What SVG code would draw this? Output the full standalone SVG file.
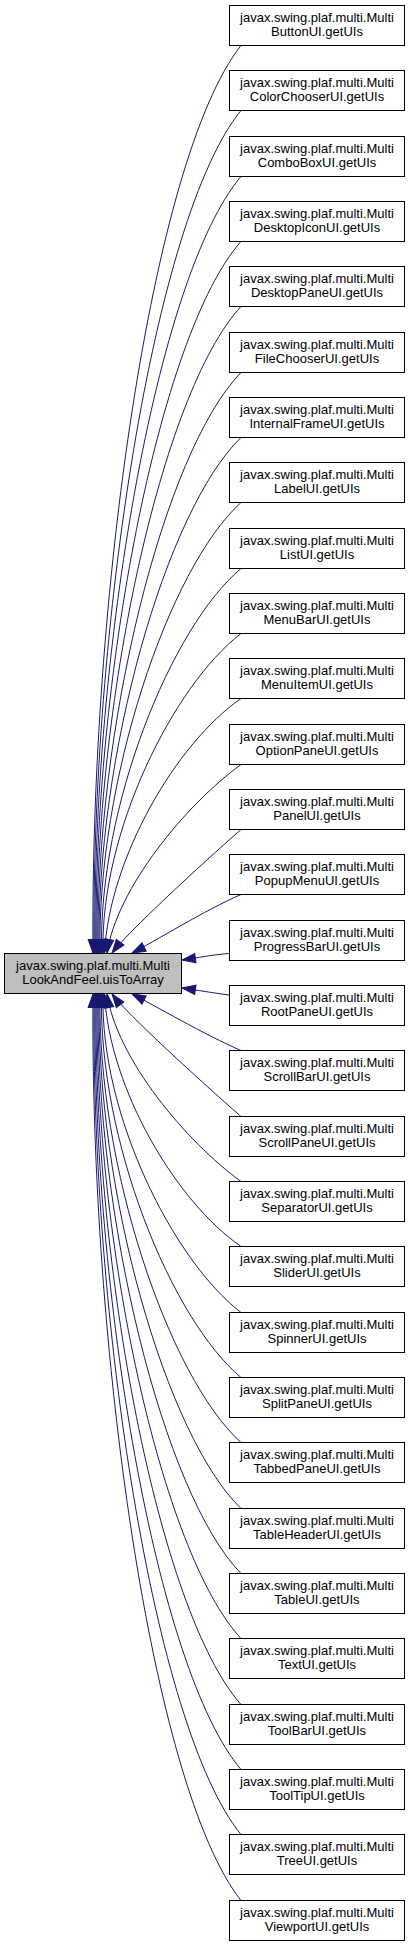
<svg xmlns="http://www.w3.org/2000/svg" width="411" height="1947" viewBox="0 0 411 1947">
<style>
.n rect{fill:#fff;stroke:#000;stroke-width:1}
.m rect{fill:#bfbfbf;stroke:#000;stroke-width:1}
text{font-family:"Liberation Sans",Arial,sans-serif;font-size:13px;fill:#000;text-anchor:middle}
.e path{fill:none;stroke:#191970;stroke-width:1;marker-end:url(#ah)}
</style>
<defs>
<marker id="ah" markerUnits="userSpaceOnUse" markerWidth="16" markerHeight="12" viewBox="-1 -6 16 12" refX="13.5" refY="0" orient="auto">
<path d="M0,-4.7 L13.5,0 L0,4.7 Z" fill="#191970" stroke="#191970" stroke-width="1"/>
</marker>
</defs>
<rect width="411" height="1947" fill="#fff"/>
<g id="connectors" class="e">
<path d="M241,45.5 C151,159.5 90,603 93,953"/>
<path d="M241,110.5 C153.5,217.6 91,628.5 94,953"/>
<path d="M241,176.5 C156,276.7 92,654 95,953"/>
<path d="M241,241.5 C158.5,334.8 93,679.5 96,953"/>
<path d="M241,306.5 C161,392.9 94,705 97,953"/>
<path d="M241,372.5 C163.5,452 95,730.5 98,953"/>
<path d="M241,437.5 C166,510.1 96,756 99,953"/>
<path d="M241,502.5 C168.5,568.2 97,781.5 100,953"/>
<path d="M241,568.5 C171,627.3 98.5,807 101.5,953"/>
<path d="M241,633.5 C173.5,685.4 100,832.5 103,953"/>
<path d="M241,698.5 C176,743.5 109.5,858 104.5,953"/>
<path d="M241,764.5 C186,804.5 117,888 107,953"/>
<path d="M241,829.5 C201,864.5 127,933 112,953"/>
<path d="M241,894.5 C206,909.5 152,943 132,953"/>
<path d="M229,953.5 C210,955 200,957.5 182,960"/>
<path d="M229,995 C210,992.5 200,990.5 182,988"/>
<path d="M241,1050.5 C206,1035.5 152,1004 132,994"/>
<path d="M241,1116.5 C201,1081.5 127,1014 112,994"/>
<path d="M241,1181.5 C186,1141.5 117,1059 107,994"/>
<path d="M241,1246.5 C176,1201.5 109.5,1089 104.5,994"/>
<path d="M241,1312.5 C173.5,1260.6 100,1114.5 103,994"/>
<path d="M241,1377.5 C171,1318.7 98.5,1140 101.5,994"/>
<path d="M241,1442.5 C168.5,1376.8 97,1165.5 100,994"/>
<path d="M241,1508.5 C166,1435.9 96,1191 99,994"/>
<path d="M241,1573.5 C163.5,1494 95,1216.5 98,994"/>
<path d="M241,1638.5 C161,1552.1 94,1242 97,994"/>
<path d="M241,1704.5 C158.5,1611.2 93,1267.5 96,994"/>
<path d="M241,1769.5 C156,1669.3 92,1293 95,994"/>
<path d="M241,1834.5 C153.5,1727.4 91,1318.5 94,994"/>
<path d="M241,1900.5 C151,1786.5 90,1344 93,994"/>
</g>
<g id="uisToArray" class="m"><rect x="4.5" y="953.5" width="177" height="40"/><text x="93" y="969.5">javax.swing.plaf.multi.Multi</text><text x="93" y="983.5">LookAndFeel.uisToArray</text></g>
<g id="ButtonUI" class="n"><rect x="229.5" y="5.5" width="175" height="40"/><text x="317" y="21.5">javax.swing.plaf.multi.Multi</text><text x="317" y="35.5">ButtonUI.getUIs</text></g>
<g id="ColorChooserUI" class="n"><rect x="229.5" y="70.5" width="175" height="40"/><text x="317" y="86.5">javax.swing.plaf.multi.Multi</text><text x="317" y="100.5">ColorChooserUI.getUIs</text></g>
<g id="ComboBoxUI" class="n"><rect x="229.5" y="136.5" width="175" height="40"/><text x="317" y="152.5">javax.swing.plaf.multi.Multi</text><text x="317" y="166.5">ComboBoxUI.getUIs</text></g>
<g id="DesktopIconUI" class="n"><rect x="229.5" y="201.5" width="175" height="40"/><text x="317" y="217.5">javax.swing.plaf.multi.Multi</text><text x="317" y="231.5">DesktopIconUI.getUIs</text></g>
<g id="DesktopPaneUI" class="n"><rect x="229.5" y="266.5" width="175" height="40"/><text x="317" y="282.5">javax.swing.plaf.multi.Multi</text><text x="317" y="296.5">DesktopPaneUI.getUIs</text></g>
<g id="FileChooserUI" class="n"><rect x="229.5" y="332.5" width="175" height="40"/><text x="317" y="348.5">javax.swing.plaf.multi.Multi</text><text x="317" y="362.5">FileChooserUI.getUIs</text></g>
<g id="InternalFrameUI" class="n"><rect x="229.5" y="397.5" width="175" height="40"/><text x="317" y="413.5">javax.swing.plaf.multi.Multi</text><text x="317" y="427.5">InternalFrameUI.getUIs</text></g>
<g id="LabelUI" class="n"><rect x="229.5" y="462.5" width="175" height="40"/><text x="317" y="478.5">javax.swing.plaf.multi.Multi</text><text x="317" y="492.5">LabelUI.getUIs</text></g>
<g id="ListUI" class="n"><rect x="229.5" y="528.5" width="175" height="40"/><text x="317" y="544.5">javax.swing.plaf.multi.Multi</text><text x="317" y="558.5">ListUI.getUIs</text></g>
<g id="MenuBarUI" class="n"><rect x="229.5" y="593.5" width="175" height="40"/><text x="317" y="609.5">javax.swing.plaf.multi.Multi</text><text x="317" y="623.5">MenuBarUI.getUIs</text></g>
<g id="MenuItemUI" class="n"><rect x="229.5" y="658.5" width="175" height="40"/><text x="317" y="674.5">javax.swing.plaf.multi.Multi</text><text x="317" y="688.5">MenuItemUI.getUIs</text></g>
<g id="OptionPaneUI" class="n"><rect x="229.5" y="724.5" width="175" height="40"/><text x="317" y="740.5">javax.swing.plaf.multi.Multi</text><text x="317" y="754.5">OptionPaneUI.getUIs</text></g>
<g id="PanelUI" class="n"><rect x="229.5" y="789.5" width="175" height="40"/><text x="317" y="805.5">javax.swing.plaf.multi.Multi</text><text x="317" y="819.5">PanelUI.getUIs</text></g>
<g id="PopupMenuUI" class="n"><rect x="229.5" y="854.5" width="175" height="40"/><text x="317" y="870.5">javax.swing.plaf.multi.Multi</text><text x="317" y="884.5">PopupMenuUI.getUIs</text></g>
<g id="ProgressBarUI" class="n"><rect x="229.5" y="920.5" width="175" height="40"/><text x="317" y="936.5">javax.swing.plaf.multi.Multi</text><text x="317" y="950.5">ProgressBarUI.getUIs</text></g>
<g id="RootPaneUI" class="n"><rect x="229.5" y="985.5" width="175" height="40"/><text x="317" y="1001.5">javax.swing.plaf.multi.Multi</text><text x="317" y="1015.5">RootPaneUI.getUIs</text></g>
<g id="ScrollBarUI" class="n"><rect x="229.5" y="1050.5" width="175" height="40"/><text x="317" y="1066.5">javax.swing.plaf.multi.Multi</text><text x="317" y="1080.5">ScrollBarUI.getUIs</text></g>
<g id="ScrollPaneUI" class="n"><rect x="229.5" y="1116.5" width="175" height="40"/><text x="317" y="1132.5">javax.swing.plaf.multi.Multi</text><text x="317" y="1146.5">ScrollPaneUI.getUIs</text></g>
<g id="SeparatorUI" class="n"><rect x="229.5" y="1181.5" width="175" height="40"/><text x="317" y="1197.5">javax.swing.plaf.multi.Multi</text><text x="317" y="1211.5">SeparatorUI.getUIs</text></g>
<g id="SliderUI" class="n"><rect x="229.5" y="1246.5" width="175" height="40"/><text x="317" y="1262.5">javax.swing.plaf.multi.Multi</text><text x="317" y="1276.5">SliderUI.getUIs</text></g>
<g id="SpinnerUI" class="n"><rect x="229.5" y="1312.5" width="175" height="40"/><text x="317" y="1328.5">javax.swing.plaf.multi.Multi</text><text x="317" y="1342.5">SpinnerUI.getUIs</text></g>
<g id="SplitPaneUI" class="n"><rect x="229.5" y="1377.5" width="175" height="40"/><text x="317" y="1393.5">javax.swing.plaf.multi.Multi</text><text x="317" y="1407.5">SplitPaneUI.getUIs</text></g>
<g id="TabbedPaneUI" class="n"><rect x="229.5" y="1442.5" width="175" height="40"/><text x="317" y="1458.5">javax.swing.plaf.multi.Multi</text><text x="317" y="1472.5">TabbedPaneUI.getUIs</text></g>
<g id="TableHeaderUI" class="n"><rect x="229.5" y="1508.5" width="175" height="40"/><text x="317" y="1524.5">javax.swing.plaf.multi.Multi</text><text x="317" y="1538.5">TableHeaderUI.getUIs</text></g>
<g id="TableUI" class="n"><rect x="229.5" y="1573.5" width="175" height="40"/><text x="317" y="1589.5">javax.swing.plaf.multi.Multi</text><text x="317" y="1603.5">TableUI.getUIs</text></g>
<g id="TextUI" class="n"><rect x="229.5" y="1638.5" width="175" height="40"/><text x="317" y="1654.5">javax.swing.plaf.multi.Multi</text><text x="317" y="1668.5">TextUI.getUIs</text></g>
<g id="ToolBarUI" class="n"><rect x="229.5" y="1704.5" width="175" height="40"/><text x="317" y="1720.5">javax.swing.plaf.multi.Multi</text><text x="317" y="1734.5">ToolBarUI.getUIs</text></g>
<g id="ToolTipUI" class="n"><rect x="229.5" y="1769.5" width="175" height="40"/><text x="317" y="1785.5">javax.swing.plaf.multi.Multi</text><text x="317" y="1799.5">ToolTipUI.getUIs</text></g>
<g id="TreeUI" class="n"><rect x="229.5" y="1834.5" width="175" height="40"/><text x="317" y="1850.5">javax.swing.plaf.multi.Multi</text><text x="317" y="1864.5">TreeUI.getUIs</text></g>
<g id="ViewportUI" class="n"><rect x="229.5" y="1900.5" width="175" height="40"/><text x="317" y="1916.5">javax.swing.plaf.multi.Multi</text><text x="317" y="1930.5">ViewportUI.getUIs</text></g>
</svg>
